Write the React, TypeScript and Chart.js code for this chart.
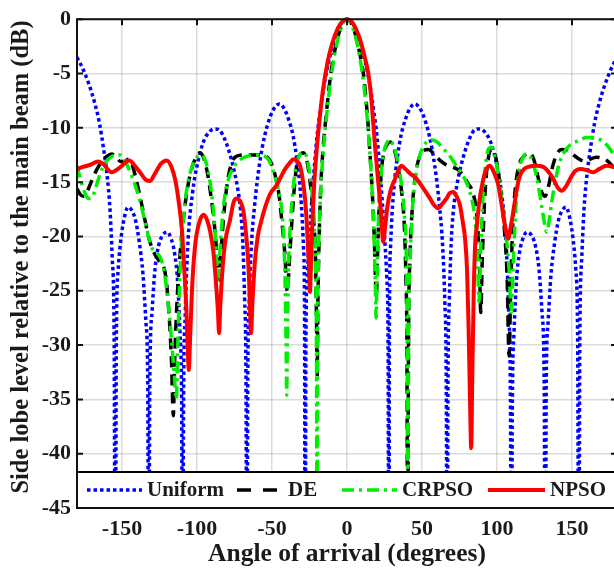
import React, { useEffect, useRef } from "react";
import { Chart, registerables } from "chart.js";

Chart.register(...registerables);

// ---------------- data ----------------
const xTickValues = [-150, -100, -50, 0, 50, 100, 150];
const legendLabels = ["Uniform", "DE", "CRPSO", "NPSO"];
const xTitle = "Angle of arrival (degrees)";
const yTitle = "Side lobe level relative to the main beam (dB)";

const uniformAngles = [
  -180, -176, -172, -168, -165, -162, -160, -158, -156.5, -155.2, -154.5, -153.8, -152.5, -150.5, -148, -146,
  -143.5, -141, -138.5, -136, -134, -132.8, -132.2, -131.5, -130, -128, -125.5, -123, -120, -117, -115, -113,
  -111.3, -110.2, -109.6, -109, -107.8, -106, -103, -100, -96, -92, -88, -85, -82, -79, -76, -73, -71, -69.5,
  -68.2, -67.3, -66.8, -66.2, -65.2, -63.8, -61.5, -58.5, -55, -51, -47.5, -45, -42, -39, -36, -33.5, -31.5,
  -30, -29, -28.3, -27.9, -27.4, -26.6, -24.7, -22.4, -20, -18, -14.7, -12, -9, -6, -3, 0,
  3, 6, 9, 12, 14.7, 18, 20, 22.4, 24.7, 26.6, 27.4, 27.9, 28.3, 29, 30, 31.5, 33.5, 36, 39, 42, 45, 47.5, 51,
  55, 58.5, 61.5, 63.8, 65.2, 66.2, 66.8, 67.3, 68.2, 69.5, 71, 73, 76, 79, 82, 85, 88, 92, 96, 100, 103, 106,
  107.8, 109, 109.6, 110.2, 111.3, 113, 115, 117, 120, 123, 125.5, 128, 130, 131.5, 132.2, 132.8, 134, 136,
  138.5, 141, 143.5, 146, 148, 150.5, 152.5, 153.8, 154.5, 155.2, 156.5, 158, 160, 162, 165, 168, 172, 176, 180,
];
const uniformLevels = [
  -3.5, -4.6, -6.0, -7.8, -9.6, -12.2, -14.3, -17.5, -22, -30, -60, -30, -23, -20, -18, -17.3,
  -17.6, -18.5, -20.5, -23.5, -28, -34, -60, -34, -27, -23, -20.8, -19.9, -19.6, -20.3, -21.5, -24,
  -29, -36, -60, -36, -27, -20.5, -16, -13.5, -11.4, -10.4, -10.1, -10.2, -10.9, -12, -13.5, -15.5, -17.5, -20.5,
  -26, -34, -60, -34, -26, -21, -17, -13.5, -10.8, -8.9, -8, -7.8, -8.2, -9.2, -10.7, -12.8, -15.2,
  -18, -21, -27, -60, -30, -24, -19.3, -14.7, -10.8, -8.6, -5.6, -3.8, -2.1, -0.95, -0.25, 0,
  -0.25, -0.95, -2.1, -3.8, -5.6, -8.6, -10.8, -14.7, -19.3, -24, -30, -60, -27, -21, -18, -15.2, -12.8, -10.7, -9.2, -8.2, -7.8, -8, -8.9,
  -10.8, -13.5, -17, -21, -26, -34, -60, -34, -26, -20.5, -17.5, -15.5, -13.5, -12, -10.9, -10.2, -10.1, -10.4, -11.4, -13.5, -16, -20.5,
  -27, -36, -60, -36, -29, -24, -21.5, -20.3, -19.6, -19.9, -20.8, -23, -27, -34, -60, -34, -28, -23.5,
  -20.5, -18.5, -17.6, -17.3, -18, -20, -23, -30, -60, -30, -22, -17.5, -14.3, -12.2, -9.6, -7.8, -6.0, -4.6, -3.5,
];

const deAngles = [
  -180, -178, -175.5, -173, -170, -167, -163, -160, -157, -154, -151, -148.5, -146, -143.5, -141, -138, -135,
  -132, -129, -125.5, -122.5, -120.5, -118.5, -117, -115.8, -114.8, -113.5, -111.5, -109, -106, -103, -100,
  -98, -95.5, -93, -90.5, -88, -86.3, -85.2, -84, -82, -79.5, -76.5, -73.5, -68, -62, -56, -52.5, -50, -47.5,
  -45.3, -43.5, -41.5, -39.8, -38.3, -36.8, -35, -33.3, -31, -29, -27.2, -25.5, -23.8, -22.2, -21, -20.3,
  -19.9, -19.4, -18.5, -17.5, -16, -14.5, -12.5, -10.8, -8, -5, -2.5, 0, 2.5, 5, 8, 10.9, 12.7, 14.2, 15.5,
  16.5, 17.5, 18.4, 19, 19.6, 20.3, 21.5, 23, 25, 27, 28.7, 30.5, 32.5, 34.5, 36.5, 38.2, 39.3, 40, 40.4, 41,
  42, 43.5, 45.5, 48, 51, 54.2, 58, 62, 66, 70, 73.5, 77, 80.5, 84, 86.5, 88.2, 89.2, 90.2, 91.8, 93.5, 95.5,
  97, 99, 101, 103, 105, 106.8, 108, 109.2, 110.5, 112.5, 115, 118, 121.5, 124.5, 127, 129.5, 132, 134.5, 137,
  140, 143, 147, 151, 155, 158.5, 162, 166, 170, 174, 177.5, 180,
];
const deLevels = [
  -15.6, -16.1, -16.3, -15.8, -14.8, -13.9, -13.0, -12.6, -12.4, -12.7, -13.1, -13.1, -12.9, -13.3, -14.5, -16.3, -18.3,
  -20.2, -21.4, -22.2, -22.7, -24, -27.5, -31.5, -36.5, -31, -26.5, -22, -18.3, -15.3, -13.5, -12.6,
  -12.3, -12.8, -14.2, -16.5, -19.5, -22.5, -24, -21.5, -17.8, -14.8, -13.1, -12.6, -12.5, -12.5, -12.5, -12.8, -13.4, -14.6,
  -16.2, -18.5, -21.5, -25, -22, -18.7, -15.3, -13.2, -12.4, -12.3, -12.8, -14, -16, -18.6, -22, -28,
  -33, -26, -19.8, -15.5, -12, -9.7, -7, -5, -2.8, -1.1, -0.3, 0, -0.3, -1.1, -2.8, -5, -7.4, -10, -12.8,
  -15, -17.8, -21, -24, -25.5, -22, -17, -13.8, -12.1, -11.5, -11.3, -11.6, -12.5, -14, -16, -19, -24, -32, -55, -30,
  -22, -17.5, -14.5, -12.8, -12.1, -12, -12.4, -13, -13.4, -13.6, -13.8, -14.3, -15.1, -16, -18, -22, -27, -22, -16.5, -13.5, -12.1,
  -12, -12.6, -14.2, -16.5, -19.5, -24, -31, -24.5, -19, -15.2, -13.3, -12.6, -12.3, -12.9, -14.3, -15.8, -16.3, -15.3, -13.6,
  -12.4, -12, -12.1, -12.5, -12.9, -13.1, -12.9, -12.7, -12.8, -13.1, -13.6, -14,
];

const crpsoAngles = [
  -180, -177.5, -175, -172.5, -170, -167.5, -164.5, -161, -157.5, -154, -151.3, -148.5, -146, -143, -140, -137,
  -134.5, -132, -129.5, -127, -125, -123, -121, -119, -117, -115, -113.8, -112.8, -111.8, -110.5, -108.5, -106,
  -103, -100, -97, -94, -91.5, -89.5, -88, -86.8, -86, -85, -83.5, -81.5, -78.5, -75, -71, -66, -60, -55, -52,
  -49.5, -47, -44.7, -43, -41.8, -41, -40.5, -40.2, -39.8, -39.2, -38.2, -37, -35.3, -33.3, -30.8, -28.3, -26.5,
  -24.7, -23, -21.8, -20.8, -20.3, -20, -19.6, -19, -18, -16.8, -15.2, -13.5, -11.5, -9, -6, -3, 0, 3, 6, 9,
  11.2, 13, 14.5, 15.8, 17, 18, 18.8, 19.4, 20, 21, 22.5, 24.5, 26.5, 28.7, 30.5, 32.5, 34.5, 36.5, 38.3, 39.5,
  40.1, 40.5, 41, 42, 43.5, 45.5, 48, 51, 54, 56.5, 60, 64, 68, 72, 76, 79.5, 82.5, 85, 86.8, 88, 89.2, 90.8,
  92.5, 94.5, 96.5, 98.5, 101, 103.5, 106, 108, 109.5, 110.8, 112.5, 114.5, 117, 120, 122.5, 125, 127.5, 130,
  132, 133.2, 134.5, 136.5, 139, 141.5, 144.5, 148.5, 154, 160, 165, 170, 174, 177.5, 180,
];
const crpsoLevels = [
  -13.5, -14.8, -15.9, -16.5, -16.4, -15.5, -14.2, -13.2, -12.7, -12.5, -12.5, -12.9, -13.6, -14.6, -15.8, -17.3,
  -18.7, -20.2, -21.2, -21.5, -21.8, -22.5, -24, -26.5, -29.5, -33, -35, -30, -25, -21, -17.5, -15,
  -13.5, -12.7, -12.5, -13.2, -14.8, -17, -19.5, -22.5, -24, -22, -19, -16.3, -14.5, -13.5, -12.9, -12.6, -12.5, -12.6, -13,
  -13.9, -15, -16.4, -18.3, -21.5, -26, -31, -34.6, -30, -24, -20, -17.3, -14.8, -13.1, -12.4, -12.3, -12.9,
  -14.4, -16.5, -19, -24, -32, -55, -30, -22, -17.5, -14, -11.2, -8.7, -6.3, -3.9, -1.8, -0.5, 0, -0.5, -1.8, -3.9,
  -6, -8.4, -10.8, -13.5, -16.5, -20, -24, -27.5, -24, -18.5, -14.8, -12.3, -11.4, -11.1, -11.5, -12.3, -13.6, -15.4, -18, -22,
  -30, -55, -30, -22.5, -17.8, -14.7, -12.8, -11.7, -11.2, -11.1, -11.3, -11.9, -12.5, -13.3, -14.1, -15, -16.2, -18, -21, -26, -21, -16,
  -13.2, -11.9, -11.8, -12.6, -14.5, -17, -19.8, -23, -27, -22.5, -17.5, -14.2, -12.8, -12.4, -12.7, -13.7, -15.3, -17.4,
  -19, -19.6, -18.8, -16.8, -14.8, -13.3, -12.3, -11.6, -11.2, -10.9, -10.9, -11.2, -11.7, -12.4, -13,
];

const npsoAngles = [
  -180, -176, -171, -166, -162, -159, -157, -154, -150, -147, -145, -142, -138, -134, -131.3, -128, -124, -120.2,
  -117, -114.5, -112, -110, -108.5, -107, -106, -105.5, -104.5, -103, -101, -98, -95.5, -93, -91, -89, -87.5, -86,
  -85.3, -84.5, -83, -81, -78, -75.5, -73.6, -71, -69, -67.5, -66, -65, -64, -63, -61.5, -59.5, -57, -55, -51.3,
  -47, -44, -41.3, -38, -35.8, -33, -31.3, -29.5, -28, -26.5, -25.3, -24.7, -24, -23, -22, -20.5, -18.5, -16, -13,
  -10, -6, -3, 0, 3, 6, 9, 12, 14.2, 16, 18.7, 20.5, 22.5, 24.2, 25.5, 27, 29, 32, 34, 36.4, 39, 42, 46.4, 51,
  55.3, 58, 60.9, 63.5, 66.4, 68.5, 70.9, 73, 75.3, 77, 78.7, 80, 81, 82, 82.8, 83.5, 84.5, 85.5, 86.4, 88, 90.9,
  93, 95.3, 98, 100.9, 103, 105.3, 107.5, 109, 110.9, 113, 115.3, 118, 120.9, 126, 130.9, 134, 137.5, 140.5, 143.1,
  146, 148.7, 152, 155.3, 160, 164.2, 168, 173.1, 177.6, 180,
];
const npsoLevels = [
  -13.8, -13.6, -13.4, -13.1, -13.4, -13.9, -14.1, -13.9, -13.5, -13.1, -13, -13.4, -14.1, -14.8, -14.9, -14.2, -13.3, -13,
  -13.6, -14.8, -17, -19.5, -23, -27, -31, -32.3, -29, -24, -20.5, -18.5, -18, -18.6, -19.7, -21.5, -24, -27,
  -28.9, -26.5, -23, -20.3, -18.5, -16.8, -16.5, -16.8, -17.7, -19.5, -22, -25, -28.9, -26, -22.5, -20, -18.5, -17.5, -16.1,
  -15.3, -14.5, -13.8, -13.2, -12.9, -13.1, -13.5, -14.8, -16.5, -19.5, -23, -25.1, -22.5, -18.5, -15.5, -12.5, -9.5, -6.5, -4,
  -2.3, -0.8, -0.2, 0, -0.2, -0.9, -2, -3.6, -5, -7, -11.7, -14.5, -17.5, -20.5, -19, -17.2, -15.8, -14.7, -14, -13.5, -13.8, -14.2, -14.7, -15.6,
  -16.5, -17.1, -17.4, -17, -16.5, -16, -15.9, -16.3, -17.1, -18.5, -20.2, -23, -28, -35, -39.5, -33, -25, -20.5, -19.3, -17, -14.7,
  -13.8, -13.5, -14.1, -15.3, -17, -19, -20.2, -19.2, -17.7, -15.8, -14.4, -13.8, -13.6, -13.5, -13.6, -14, -14.7, -15.5, -15.8,
  -15.4, -14.7, -14, -13.8, -13.9, -14.1, -13.8, -13.5, -13.6, -13.7,
];

// ---------------- styles ----------------
const FONT = '"Liberation Serif", "Times New Roman", serif';
const seriesStyles = [
  { color: "#0000ff", dash: [3.5, 3], width: 3.5 },
  { color: "#000000", dash: [11, 7], width: 3.5 },
  { color: "#00ee00", dash: [12, 5, 3, 5], width: 3.5 },
  { color: "#ff0000", dash: [] as number[], width: 4 },
];

const toPoints = (xs: number[], ys: number[]) => xs.map((x, i) => ({ x, y: ys[i] }));

const framePlugin = {
  id: "frame",
  afterDatasetsDraw(chart: any) {
    const ctx = chart.ctx as CanvasRenderingContext2D;
    const { left, top, right, bottom } = chart.chartArea;
    const xs = chart.scales.x;
    const ys = chart.scales.y;
    ctx.save();
    // legend box
    const lTop = bottom - 36;
    ctx.fillStyle = "#ffffff";
    ctx.fillRect(left, lTop, right - left, bottom - lTop);
    ctx.strokeStyle = "#000";
    ctx.lineWidth = 2;
    ctx.strokeRect(left, lTop, right - left, bottom - lTop);
    const ly = (lTop + bottom) / 2;
    const sampleStarts = [10, 160, 265, 411];
    const sampleLens = [55, 46, 55, 57];
    const dashes = [[3.5, 3], [14, 12], [12, 5, 3, 5], []];
    ctx.font = `bold 21px ${FONT}`;
    ctx.textBaseline = "middle";
    ctx.textAlign = "left";
    legendLabels.forEach((lab, i) => {
      const sx = left + sampleStarts[i];
      ctx.beginPath();
      ctx.setLineDash(dashes[i]);
      ctx.lineWidth = seriesStyles[i].width;
      ctx.strokeStyle = seriesStyles[i].color;
      ctx.moveTo(sx, ly);
      ctx.lineTo(sx + sampleLens[i], ly);
      ctx.stroke();
      ctx.setLineDash([]);
      ctx.fillStyle = "#1a1a1a";
      ctx.fillText(lab, sx + sampleLens[i] + 5, ly + 1);
    });
    // frame
    ctx.strokeStyle = "#111";
    ctx.lineWidth = 2;
    ctx.beginPath();
    ctx.moveTo(left, bottom);
    ctx.lineTo(left, top);
    ctx.lineTo(right, top);
    ctx.lineTo(right, bottom);
    ctx.lineTo(left, bottom);
    ctx.stroke();
    // inner tick marks
    ctx.beginPath();
    xTickValues.forEach((v) => {
      const px = xs.getPixelForValue(v);
      ctx.moveTo(px, top);
      ctx.lineTo(px, top + 6);
    });
    ys.ticks.forEach((t: any) => {
      const py = ys.getPixelForValue(t.value);
      ctx.moveTo(left, py);
      ctx.lineTo(left + 6, py);
      ctx.moveTo(right, py);
      ctx.lineTo(right - 6, py);
    });
    ctx.stroke();
    // titles
    ctx.fillStyle = "#1a1a1a";
    ctx.font = `bold 25.5px ${FONT}`;
    ctx.textAlign = "center";
    ctx.textBaseline = "middle";
    ctx.fillText(xTitle, xs.getPixelForValue(0), 554);
    ctx.font = `bold 24.5px ${FONT}`;
    ctx.translate(22, 257);
    ctx.rotate(-Math.PI / 2);
    ctx.fillText(yTitle, 0, 0);
    ctx.restore();
  },
};

export default function App() {
  const ref = useRef<HTMLCanvasElement | null>(null);
  useEffect(() => {
    if (!ref.current) return;
    const series = [
      toPoints(uniformAngles, uniformLevels),
      toPoints(deAngles, deLevels),
      toPoints(crpsoAngles, crpsoLevels),
      toPoints(npsoAngles, npsoLevels),
    ];
    const chart = new Chart(ref.current, {
      type: "line",
      data: {
        datasets: series.map((pts, i) => ({
          label: legendLabels[i],
          data: pts,
          borderColor: seriesStyles[i].color,
          backgroundColor: seriesStyles[i].color,
          borderWidth: seriesStyles[i].width,
          borderDash: seriesStyles[i].dash,
          borderCapStyle: "butt",
          pointRadius: 0,
          fill: false,
          cubicInterpolationMode: "monotone",
          order: 4 - i,
          clip: { left: 0, top: 3, right: 0, bottom: 0 },
        })),
      } as any,
      options: {
        animation: false,
        responsive: false,
        maintainAspectRatio: false,
        layout: { padding: { top: 16, right: 13, left: 0, bottom: 0 } },
        plugins: { legend: { display: false }, tooltip: { enabled: false } },
        scales: {
          x: {
            type: "linear",
            min: -180,
            max: 180,
            afterBuildTicks: (s: any) => {
              s.ticks = xTickValues.map((v) => ({ value: v }));
            },
            afterFit: (s: any) => {
              s.height = 62;
            },
            grid: { color: "rgba(0,0,0,0.14)", lineWidth: 1.5, drawTicks: false },
            border: { display: false },
            ticks: { font: { family: FONT, size: 22, weight: "bold" }, color: "#1a1a1a", padding: 8, maxRotation: 0 },
          },
          y: {
            type: "linear",
            min: -45,
            max: 0,
            afterFit: (s: any) => {
              s.width = 77;
            },
            grid: { color: "rgba(0,0,0,0.14)", lineWidth: 1.5, drawTicks: false },
            border: { display: false },
            ticks: { stepSize: 5, font: { family: FONT, size: 22, weight: "bold" }, color: "#1a1a1a", padding: 6 },
          },
        },
      } as any,
      plugins: [framePlugin],
    });
    return () => chart.destroy();
  }, []);
  return (
    <div style={{ position: "absolute", left: 0, top: 0, width: 614, height: 570, overflow: "hidden", background: "#fff" }}>
      <canvas ref={ref} width={630} height={570} style={{ display: "block", width: 630, height: 570 }} />
    </div>
  );
}
